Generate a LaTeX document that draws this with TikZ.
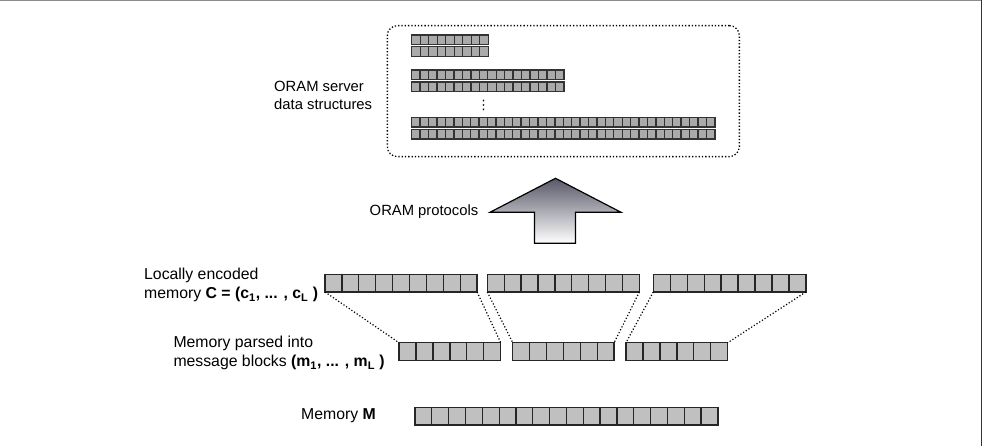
\documentclass[tikz,border=0pt]{standalone}
\usepackage{fontspec}
\setmainfont{Liberation Sans}
\newfontfamily\symfont{DejaVu Sans}
\definecolor{cellgray}{RGB}{192,192,192}
\definecolor{srvgray}{RGB}{170,170,170}
\definecolor{arrowtop}{RGB}{88,88,104}
% A row of #4 cells named #1, top-left corner (#2,#3), cell width #5, height #6, style #7
\newcommand{\cellrow}[7]{%
  \node[#7, minimum width=#4*#5 pt, minimum height=#6 pt, anchor=north west] (#1) at (#2,#3) {};
  \foreach \k in {1,...,\numexpr#4-1\relax}
    \draw[#7, fill=none] ([xshift=\k*#5 pt]#1.north west) -- ([xshift=\k*#5 pt]#1.south west);
}
\begin{document}
\begin{tikzpicture}[x=1pt,y=-1pt,
  cellbox/.style={draw=black!85, fill=cellgray, line width=1.3pt, inner sep=0pt, outer sep=0pt},
  srvbox/.style={draw=black!80, fill=srvgray, line width=1.4pt, inner sep=0pt, outer sep=0pt},
  lbl/.style={font=\fontsize{15.8}{19}\selectfont, align=left, inner sep=0pt, anchor=west},
  toplbl/.style={lbl, font=\fontsize{14.8}{18}\selectfont},
  link/.style={dotted, line width=1.2pt},
]
\useasboundingbox (0,0) rectangle (982,446);
% window frame edges
\draw[black!45, line width=1.5pt] (0,0.75) -- (982,0.75);
\draw[black!80, line width=1.5pt] (981.25,0) -- (981.25,446);

% server side
\node[draw, dotted, line width=1.3pt, rounded corners=10pt, minimum width=352pt, minimum height=131pt,
      anchor=north west, inner sep=0pt] (server) at (386.7,25) {};
\cellrow{s1}{411.7}{35}{9}{8.51}{9.5}{srvbox}
\cellrow{s2}{411.7}{46.8}{9}{8.51}{9.5}{srvbox}
\cellrow{s3}{411.7}{70.2}{18}{8.45}{9.5}{srvbox}
\cellrow{s4}{411.7}{82}{18}{8.45}{9.5}{srvbox}
\node[inner sep=0pt, font=\symfont\fontsize{13}{13}\selectfont] (vd) at (483.7,105) {⋮};
\cellrow{s5}{411.7}{117.6}{36}{8.42}{9.5}{srvbox}
\cellrow{s6}{411.7}{129.4}{36}{8.42}{9.5}{srvbox}
\node[toplbl] (srvlbl) at (274,95) {ORAM server\\data structures};

% protocol arrow
\shade[top color=arrowtop, bottom color=white, draw=black, line width=1.2pt]
  (555.5,178.3) -- (621,212.3) -- (575.5,212.3) -- (575.5,243.3) -- (534.5,243.3)
  -- (534.5,212.3) -- (490,212.3) -- cycle;
\node[toplbl, anchor=east] (protlbl) at (478.5,212) {ORAM protocols};

% locally encoded memory
\cellrow{enc1}{325}{274.3}{9}{16.9}{17.7}{cellbox}
\cellrow{enc2}{487.3}{274.3}{9}{16.9}{17.7}{cellbox}
\cellrow{enc3}{653.3}{274.3}{9}{16.95}{17.7}{cellbox}
\node[lbl] (enclbl) at (144,285) {Locally encoded\\memory \textbf{C = (c\textsubscript{1}, ... , c\textsubscript{L} )}};

% message blocks
\cellrow{msg1}{399}{342.7}{6}{16.95}{17.5}{cellbox}
\cellrow{msg2}{512.7}{342.7}{6}{16.9}{17.5}{cellbox}
\cellrow{msg3}{626}{342.7}{6}{16.95}{17.5}{cellbox}
\node[lbl] (msglbl) at (173.3,353) {Memory parsed into\\message blocks \textbf{(m\textsubscript{1}, ... , m\textsubscript{L} )}};

% dotted links from each message block to its encoding
\draw[link] (enc1.south west) -- (msg1.north west);
\draw[link] (enc1.south east) -- (msg1.north east);
\draw[link] (enc2.south west) -- (msg2.north west);
\draw[link] (enc2.south east) -- (msg2.north east);
\draw[link] (enc3.south west) -- (msg3.north west);
\draw[link] (enc3.south east) -- (msg3.north east);

% raw memory
\cellrow{mem}{415}{407.3}{18}{16.83}{17.7}{cellbox}
\node[lbl] (memlbl) at (301,416) {Memory \textbf{M}};
\end{tikzpicture}
\end{document}
